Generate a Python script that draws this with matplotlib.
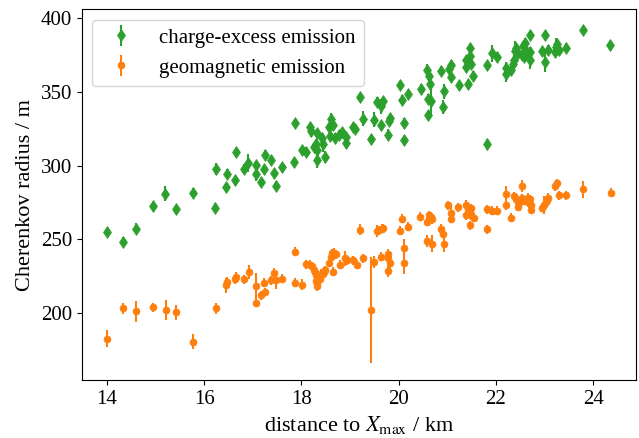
import numpy as np
import matplotlib
matplotlib.use('Agg')
import matplotlib.pyplot as plt

plt.rcParams['font.family'] = ['Liberation Serif', 'DejaVu Serif']
plt.rcParams['mathtext.fontset'] = 'stix'

# charge-excess emission (green)
ce_x = [14.00, 14.33, 14.59, 14.94, 15.20, 15.41, 15.77, 16.22, 16.25, 16.44, 16.46, 16.63, 16.66,
        16.82, 16.91, 17.07, 17.07, 17.16, 17.22, 17.25, 17.37, 17.43, 17.47, 17.60,
        17.86, 17.85, 18.01, 18.10, 18.18, 18.20, 18.25, 18.29, 18.33, 18.32, 18.31, 18.43, 18.44,
        18.48, 18.57, 18.61, 18.64, 18.58, 18.70, 18.78, 18.84, 18.92, 18.92, 19.07, 19.11,
        19.20, 19.27, 19.44, 19.50, 19.55, 19.64, 19.67, 19.64, 19.79, 19.81, 19.83, 20.02, 20.07,
        20.19, 20.12, 20.11, 20.45, 20.59, 20.63, 20.65, 20.60, 20.67, 20.60, 20.88, 20.94, 20.92,
        21.03, 21.07, 21.08, 21.25, 21.38, 21.39, 21.47, 21.47, 21.48, 21.53, 21.43, 21.81, 21.82,
        21.92, 22.03, 22.20, 22.20, 22.32, 22.36, 22.38, 22.40, 22.42, 22.46, 22.53, 22.55, 22.60,
        22.63, 22.58, 22.70, 22.70, 22.71, 22.94, 23.02, 23.01, 23.07, 23.21, 23.24, 23.29, 23.26,
        23.44, 23.80, 24.35]
ce_r = [255.1, 248.6, 257.4, 272.5, 281.1, 270.5, 281.8, 271.6, 297.6, 285.4, 294.7, 290.0, 309.2,
        298.1, 301.7, 300.3, 294.4, 288.8, 297.6, 307.6, 303.7, 294.9, 286.3, 298.8,
        328.8, 302.4, 310.5, 309.4, 326.3, 323.4, 312.7, 315.0, 322.2, 310.5, 304.2, 319.1, 315.0,
        306.0, 326.3, 332.0, 327.5, 320.0, 319.1, 321.1, 322.7, 319.5, 315.5, 326.3, 325.2,
        346.6, 332.0, 318.0, 331.3, 343.3, 340.3, 343.9, 327.5, 321.1, 330.4, 332.4, 354.6, 344.9,
        348.5, 329.3, 317.3, 352.3, 364.7, 360.7, 355.7, 345.5, 343.7, 334.2, 364.3, 350.5, 339.9,
        365.4, 368.6, 360.2, 354.6, 371.5, 366.6, 379.5, 374.4, 369.3, 360.9, 355.3, 368.1, 314.4,
        376.1, 373.8, 366.3, 362.5, 365.2, 369.3, 372.0, 377.6, 379.5, 376.1, 374.9, 381.0, 383.3,
        377.2, 373.8, 377.2, 371.5, 388.3, 377.6, 388.3, 370.4, 378.8, 377.2, 380.5, 378.8, 382.8,
        379.9, 391.7, 381.7]
ce_err = [3, 3, 4, 3, 5, 3, 3, 3, 4, 3, 3, 3, 3,
          3, 6, 3, 5, 3, 3, 3, 3, 3, 3, 3,
          3, 3, 3, 3, 3, 4, 3, 3, 3, 4, 6, 3, 6,
          4, 3, 4, 3, 3, 3, 3, 3, 3, 3, 3, 3,
          3, 5, 3, 5, 3, 5, 3, 3, 4, 3, 3, 3, 3,
          3, 3, 3, 3, 4, 4, 4, 3, 9, 3, 3, 5, 5,
          3, 3, 3, 3, 3, 3, 3, 3, 3, 3, 3, 3, 4,
          6, 3, 4, 6, 3, 3, 3, 7, 3, 3, 3, 3, 3,
          3, 3, 3, 6, 3, 3, 3, 7, 3, 3, 6, 3, 3,
          3, 3, 3]

# geomagnetic emission (orange)
geo_x = [14.00, 14.33, 14.59, 14.94, 15.21, 15.42, 15.77, 16.24, 16.44, 16.46, 16.63, 16.66, 16.82,
         16.92, 17.07, 17.07, 17.16, 17.22, 17.25, 17.37, 17.43, 17.47, 17.60,
         17.86, 17.86, 18.02, 18.10, 18.17, 18.22, 18.25, 18.27, 18.29, 18.30, 18.31, 18.32, 18.33,
         18.39, 18.41, 18.44, 18.46, 18.49, 18.57, 18.60, 18.63, 18.66, 18.71, 18.65, 18.80, 18.89,
         18.94, 18.92,
         19.07, 19.14, 19.20, 19.27, 19.43, 19.50, 19.55, 19.60, 19.65, 19.68, 19.64, 19.79, 19.79,
         19.83, 19.79, 20.02, 20.07, 20.19, 20.12, 20.12, 20.44, 20.59, 20.63, 20.67, 20.69, 20.59,
         20.69, 20.87, 20.92, 20.93, 21.02, 21.07, 21.08, 21.23,
         21.38, 21.43, 21.49, 21.39, 21.49, 21.54, 21.47, 21.47, 21.81, 21.81, 21.92, 22.03, 22.20,
         22.21, 22.32, 22.38, 22.41, 22.45, 22.46, 22.49, 22.53, 22.54, 22.59, 22.63, 22.66, 22.70,
         22.72, 22.72, 22.68, 22.95, 22.99, 23.03, 23.05, 23.07, 23.22, 23.25, 23.29, 23.45, 23.80,
         24.36]
geo_r = [182.8, 203.2, 201.3, 204.1, 202.2, 200.5, 180.6, 203.2, 219.0, 221.2, 223.0, 224.6, 223.0,
         228.0, 218.3, 207.0, 212.2, 220.8, 214.4, 222.4, 227.3, 222.4, 223.5,
         241.6, 220.8, 219.4, 233.2, 233.0, 231.9, 229.1, 228.0, 225.7, 221.7, 222.8, 220.5, 218.3,
         223.5, 226.9, 226.9, 228.0, 229.1, 234.0, 238.2, 240.5, 240.4, 239.8, 228.0, 233.0, 237.1,
         236.0, 236.4,
         236.0, 233.0, 256.7, 237.1, 202.0, 234.8, 255.6, 256.3, 257.4, 257.8, 238.2, 240.4, 237.5,
         233.7, 228.7, 255.8, 264.2, 258.6, 244.3, 233.7, 265.3, 261.9, 266.4, 265.3, 263.7, 249.0,
         247.2, 257.4, 254.0, 246.6, 273.3, 267.6, 264.2, 271.7,
         273.6, 270.8, 271.3, 266.4, 266.4, 264.6, 259.6, 268.5, 270.5, 257.0, 269.4, 269.4, 280.5,
         273.3, 264.6, 279.3, 277.1, 275.5, 272.1, 275.5, 277.8, 286.1, 276.1, 276.6, 278.2, 277.1,
         273.2, 270.3, 274.4, 271.4, 273.2, 275.5, 276.6, 278.2, 286.1, 288.0, 280.0, 280.0, 283.9,
         281.6]
geo_err = [6, 4, 7, 3, 7, 5, 5, 4, 5, 3, 3, 3, 3,
           5, 9, 3, 3, 3, 3, 3, 3, 6, 3,
           3, 3, 4, 3, 3, 3, 3, 3, 3, 3, 6, 3, 3,
           3, 3, 3, 3, 3, 3, 3, 3, 4, 3, 3, 3, 5,
           3, 3,
           3, 3, 4, 3, 36, 4, 4, 3, 3, 3, 3, 3, 3,
           5, 4, 3, 3, 3, 6, 7, 3, 3, 3, 3, 3, 4,
           6, 3, 3, 5, 3, 6, 3, 3,
           3, 3, 3, 3, 3, 3, 3, 3, 3, 3, 3, 3, 6,
           3, 3, 3, 3, 3, 3, 3, 3, 4, 3, 3, 3, 3,
           3, 3, 3, 3, 6, 3, 3, 3, 3, 3, 3, 3, 6,
           3]

fig = plt.figure(figsize=(6.39, 4.38), dpi=100)
ax = fig.add_subplot(111)
fig.subplots_adjust(left=0.128, right=0.995, top=0.979, bottom=0.132)

ax.errorbar(ce_x, ce_r, yerr=ce_err, fmt='d', color='tab:green', ms=6, mew=0.5, elinewidth=1.5,
            label='charge-excess emission')
ax.errorbar(geo_x, geo_r, yerr=geo_err, fmt='o', color='tab:orange', ms=5, mew=0.5, elinewidth=1.5,
            label='geomagnetic emission')

ax.set_xticks([14, 16, 18, 20, 22, 24])
ax.set_yticks([200, 250, 300, 350, 400])
ax.tick_params(labelsize=15)
ax.set_xlabel(r'distance to $X_{\mathrm{max}}$ / km', fontsize=16)
ax.set_ylabel('Cherenkov radius / m', fontsize=16)
ax.legend(loc='upper left', fontsize=15)

fig.savefig('out.png', dpi=100)
